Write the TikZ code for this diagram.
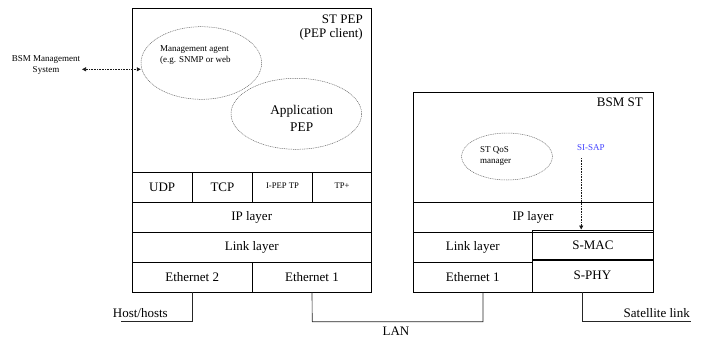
\documentclass[tikz,border=0pt]{standalone}
\usepackage{fontspec}
\setmainfont{Liberation Serif}
\usetikzlibrary{shapes.geometric,arrows.meta}
\begin{document}
\begin{tikzpicture}[x=1pt,y=-1pt,
  outer/.style={draw,line width=0.6pt,inner sep=0pt,anchor=north west},
  cell/.style={draw,line width=0.9pt,inner sep=0pt,anchor=north west,font=\fontsize{13}{15}\selectfont},
  smallcell/.style={cell,font=\fontsize{8.6}{10}\selectfont},
  oval/.style={ellipse,draw,gray!80!black,line width=0.5pt,dash pattern=on 1pt off 0.8pt,inner sep=0pt},
  bigtxt/.style={font=\fontsize{13}{14}\selectfont,inner sep=0pt},
  smalltxt/.style={font=\fontsize{9}{10.7}\selectfont,inner sep=0pt},
  wire/.style={draw,line width=0.6pt,gray!30!black},
  dotarrow/.style={line width=0.6pt,dash pattern=on 0.8pt off 0.8pt,gray!20!black},
  tip/.style={Triangle[length=4pt,width=4pt]}
]
\useasboundingbox (0,0) rectangle (705,338);

% ---------------- Left box: ST PEP ----------------
\node[outer,minimum width=239.5,minimum height=283.5] (stpep) at (131.5,8) {};
\node[bigtxt,align=right,anchor=north east] (stpeplbl) at (363,14.5) {ST PEP\\(PEP client)};

\node[oval,minimum width=120.6,minimum height=72.6] (mgmt) at (201.3,63) {};
\node[smalltxt,align=left,anchor=west] (mgmtlbl) at (160,55.3) {Management agent\\(e.g. SNMP or web};

\node[oval,minimum width=130.6,minimum height=71] (app) at (296.3,113.8) {};
\node[bigtxt,align=center,font=\fontsize{13.3}{16.7}\selectfont] (applbl) at (301.7,118.3) {Application\\PEP};

\node[cell,minimum width=60.5,minimum height=30] (udp) at (131.5,172) {UDP};
\node[cell,minimum width=60,minimum height=30] (tcp) at (192,172) {TCP};
\node[smallcell,minimum width=60,minimum height=30] (ipep) at (252,172) {\raisebox{3pt}{I-PEP TP}};
\node[smallcell,minimum width=59,minimum height=30] (tpplus) at (312,172) {\raisebox{3pt}{TP+}};
\node[cell,minimum width=239.5,minimum height=30] (ipL) at (131.5,202) {IP layer};
\node[cell,minimum width=239.5,minimum height=30] (linkL) at (131.5,232) {Link layer};
\node[cell,minimum width=120.5,minimum height=29.5] (eth2) at (131.5,262) {Ethernet 2};
\node[cell,minimum width=119,minimum height=29.5] (eth1L) at (252,262) {Ethernet 1};

% BSM management system
\node[smalltxt,align=center] (bsm) at (46,65.3) {BSM Management\\System};
\coordinate (ba) at (82,69.3);
\draw[dotarrow,{Triangle[length=4pt,width=4pt]}-{Triangle[length=4pt,width=4pt]}] (ba) -- (ba -| mgmt.west);

% ---------------- Right box: BSM ST ----------------
\node[outer,minimum width=240,minimum height=200] (bsmst) at (412.5,91.5) {};
\node[bigtxt,anchor=north east] (bsmstlbl) at (643,98) {BSM ST};

\node[oval,minimum width=91,minimum height=47] (qos) at (507,156.5) {};
\node[smalltxt,align=left,anchor=west] (qoslbl) at (480,156.3) {ST QoS\\manager};

\node[smalltxt,text=blue!75!white,anchor=center] (sisap) at (590.8,148) {SI-SAP};

\node[cell,minimum width=240,minimum height=29.5] (ipR) at (412.5,202) {IP layer};
\node[cell,line width=1.2pt,minimum width=119.2,minimum height=30] (linkR) at (412.5,231.5) {Link layer};
\node[cell,line width=1.2pt,minimum width=119.2,minimum height=30] (eth1R) at (412.5,261.5) {Ethernet 1};
\node[cell,line width=0.6pt,minimum width=120.8,minimum height=32.5] (sphy) at (531.7,259) {S-PHY};
\node[cell,line width=1.6pt,minimum width=120.8,minimum height=29.5] (smac) at (531.7,229.5) {S-MAC};

\coordinate (sa) at (581.2,158);
\draw[dotarrow,-{Triangle[length=4pt,width=4pt]}] (sa) -- (sa |- smac.north);

% ---------------- Wires ----------------
\coordinate (hostend) at (120.7,321.5);
\draw[wire] (eth2.south) |- (hostend);
\node[bigtxt,anchor=west] (host) at (112.7,313.3) {Host/hosts};

\coordinate (lanL) at (312.3,321.7);
\draw[wire] (eth1L.south) -- (lanL) -| ([xshift=10.3pt]eth1R.south);
\node[bigtxt] (lan) at (396,331.7) {LAN};

\coordinate (satend) at (691,321.7);
\draw[wire] ([xshift=-10.3pt]sphy.south) |- (satend);
\node[bigtxt,anchor=east] (sat) at (690,313.3) {Satellite link};
\end{tikzpicture}
\end{document}
